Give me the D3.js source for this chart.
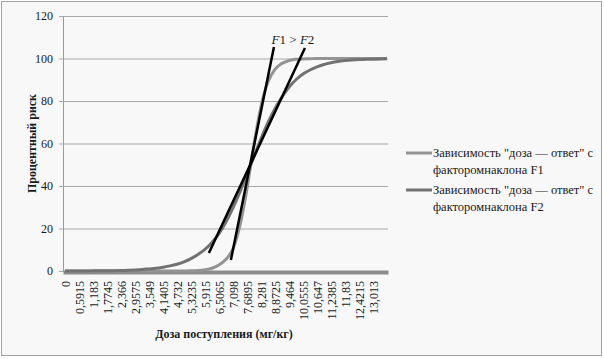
<!DOCTYPE html>
<html>
<head>
<meta charset="utf-8">
<script src="https://cdn.jsdelivr.net/npm/d3@7"></script>
<style>
  body { margin: 0; background: #fff; }
  svg, svg text { font-family: "Liberation Serif", "DejaVu Serif", serif !important; }
  text { fill: #1a1a1a; }
</style>
</head>
<body>
<div id="grafDosis"></div>
<script>
// datos
const dosis = [0, 0.29575, 0.5915, 0.88725, 1.183, 1.47875, 1.7745, 2.07025, 2.366, 2.66175,
  2.9575, 3.25325, 3.549, 3.84475, 4.1405, 4.43625, 4.732, 5.02775, 5.3235, 5.61925,
  5.915, 6.21075, 6.5065, 6.80225, 7.098, 7.39375, 7.6895, 7.98525, 8.281, 8.57675,
  8.8725, 9.16825, 9.464, 9.75975, 10.0555, 10.35125, 10.647, 10.94275, 11.2385, 11.53425,
  11.83, 12.12575, 12.4215, 12.71725, 13.013, 13.30875, 13.6045];

const riesgoF1 = [0, 0, 0, 0, 0, 0, 0, 0, 0, 0,
  0, 0, 0, 0, 0, 0, 0.02, 0.04, 0.1, 0.25,
  0.6, 1.3, 2.8, 5.5, 10.4, 21.4, 38.7, 59.5, 77.4, 88.9,
  94.9, 97.7, 99.0, 99.6, 99.8, 99.9, 100, 100, 100, 100,
  100, 100, 100, 100, 100, 100, 100];

const riesgoF2 = [0.01, 0.02, 0.03, 0.04, 0.06, 0.08, 0.11, 0.15, 0.25, 0.35,
  0.5, 0.7, 1.0, 1.3, 1.8, 2.4, 3.2, 4.3, 5.8, 7.8,
  10.2, 13.4, 17.6, 23.1, 29.7, 37.2, 45.4, 53.9, 62.2, 69.8,
  76.4, 81.9, 86.5, 90.0, 92.7, 94.6, 96.1, 97.2, 98.0, 98.6,
  99.0, 99.3, 99.5, 99.6, 99.7, 99.8, 99.9];

const etiquetasX = ["0", "0,5915", "1,183", "1,7745", "2,366", "2,9575", "3,549", "4,1405",
  "4,732", "5,3235", "5,915", "6,5065", "7,098", "7,6895", "8,281", "8,8725", "9,464",
  "10,0555", "10,647", "11,2385", "11,83", "12,4215", "13,013"];

const ticksY = [0, 20, 40, 60, 80, 100, 120];

// tangentes dibujadas a mano (dosis, riesgo)
const tangenteF1 = [[7.01, 5.2], [8.83, 105.4]];
const tangenteF2 = [[6.08, 8.5], [10.14, 104.9]];

const leyenda = [
  ["Зависимость \"доза — ответ\" с", "факторомнаклона F1"],
  ["Зависимость \"доза — ответ\" с", "факторомнаклона F2"]
];

const colores = ["#939393", "#727272"];
const fuente = "'Liberation Serif', 'DejaVu Serif', serif";

// dimensiones
const ancho = 604, alto = 359;
const margenes = { top: 16, left: 63 };
const anchoGraf = 325, altoGraf = 255;

const svg = d3.select("#grafDosis")
  .append("svg")
  .attr("width", ancho)
  .attr("height", alto)
  .style("font-family", fuente);

svg.append("rect")
  .attr("x", 1.5).attr("y", 1.5)
  .attr("width", 600).attr("height", 354)
  .attr("fill", "#f8f8f8")
  .attr("stroke", "#a3a3a3");

const g = svg.append("g")
  .attr("transform", `translate(${margenes.left}, ${margenes.top})`);

// escaladores
const x = d3.scaleLinear().domain([-0.085, 13.65]).range([0, anchoGraf]);
const y = d3.scaleLinear().domain([0, 120]).range([altoGraf, 0]);

// eje y con lineas de cuadricula
const ejeY = g.append("g")
  .call(d3.axisLeft(y).tickValues(ticksY).tickSize(0).tickPadding(10))
  .attr("font-family", null);
ejeY.select(".domain").attr("stroke", "#9a9a9a");
ejeY.selectAll(".tick line")
  .attr("x1", -4).attr("x2", anchoGraf)
  .attr("stroke", "#a8a8a8");
ejeY.selectAll(".tick text")
  .style("font-family", fuente)
  .style("font-size", "12px")
  .attr("fill", "#1a1a1a");

// eje x (linea gruesa gris)
const valoresX = etiquetasX.map((d) => +d.replace(",", "."));
const ejeX = g.append("g")
  .attr("transform", `translate(0, ${altoGraf + 1})`)
  .call(d3.axisBottom(x).tickValues(valoresX).tickFormat((d, i) => etiquetasX[i]).tickSize(0))
  .attr("font-family", null);
ejeX.select(".domain").attr("stroke", "#8c8c8c").attr("stroke-width", 4);
ejeX.selectAll(".tick text")
  .attr("transform", "rotate(-90)")
  .attr("x", -9).attr("y", 0).attr("dy", "0.35em")
  .style("text-anchor", "end")
  .style("font-family", fuente)
  .style("font-size", "12px")
  .attr("fill", "#1a1a1a");

// curvas
const linea = d3.line()
  .x((d) => x(d[0]))
  .y((d) => y(d[1]))
  .curve(d3.curveMonotoneX);

[riesgoF1, riesgoF2].forEach((serie, i) => {
  g.append("path")
    .datum(dosis.map((d, j) => [d, serie[j]]))
    .attr("d", linea)
    .attr("fill", "none")
    .attr("stroke", colores[i])
    .attr("stroke-width", 3);
});

// tangentes
[tangenteF1, tangenteF2].forEach((t) => {
  g.append("path")
    .datum(t)
    .attr("d", d3.line().x((d) => x(d[0])).y((d) => y(d[1])))
    .attr("stroke", "#000")
    .attr("stroke-width", 2.5);
});

// anotacion F1 > F2
const nota = g.append("text")
  .attr("x", x(8.73))
  .attr("y", y(107))
  .style("font-family", fuente)
  .style("font-size", "13px");
nota.append("tspan").style("font-style", "italic").text("F");
nota.append("tspan").text("1 > ");
nota.append("tspan").style("font-style", "italic").text("F");
nota.append("tspan").text("2");

// titulos de ejes
svg.append("text")
  .attr("transform", `translate(36, ${margenes.top + altoGraf / 2}) rotate(-90)`)
  .attr("text-anchor", "middle")
  .style("font-family", fuente)
  .style("font-size", "12px")
  .style("font-weight", "bold")
  .text("Процентный риск");

svg.append("text")
  .attr("x", 224)
  .attr("y", 338)
  .attr("text-anchor", "middle")
  .style("font-family", fuente)
  .style("font-size", "12px")
  .style("font-weight", "bold")
  .text("Доза поступления (мг/кг)");

// leyenda
const filas = svg.selectAll(".leyenda")
  .data(leyenda)
  .enter()
  .append("g")
  .attr("class", "leyenda")
  .attr("transform", (d, i) => `translate(406, ${153 + i * 37})`);

filas.append("line")
  .attr("x1", 0).attr("x2", 26)
  .attr("stroke", (d, i) => colores[i])
  .attr("stroke-width", 3);

filas.append("text")
  .attr("x", 27)
  .attr("y", 4)
  .style("font-family", fuente)
  .style("font-size", "12.5px")
  .text((d) => d[0]);

filas.append("text")
  .attr("x", 27)
  .attr("y", 21)
  .style("font-family", fuente)
  .style("font-size", "12.5px")
  .text((d) => d[1]);
</script>
</body>
</html>
